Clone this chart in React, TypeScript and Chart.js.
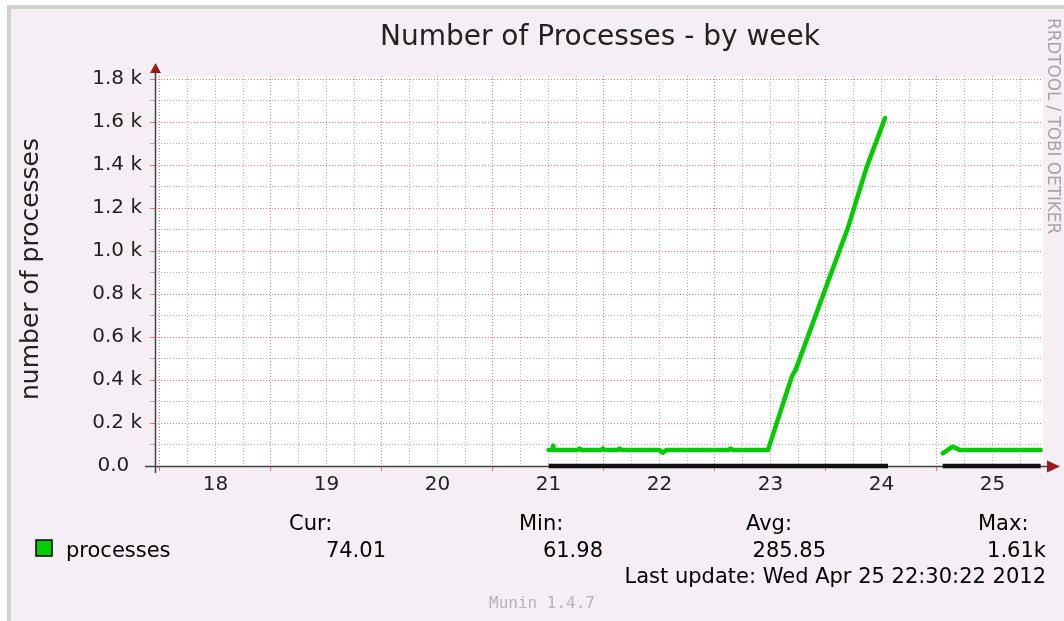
import React, { useEffect, useRef } from "react";
import { Chart, registerables } from "chart.js";

Chart.register(...registerables);

// ---------- data ----------
const TITLE = "Number of Processes - by week";
const Y_LABEL = "number of processes";
const SIDE_TEXT = "RRDTOOL / TOBI OETIKER";
const SERIES_NAME = "processes";
const LAST_UPDATE = "Last update: Wed Apr 25 22:30:22 2012";
const FOOTER = "Munin 1.4.7";

// days of month shown on the x axis (label centred at noon of each day)
const dayLabels = [18, 19, 20, 21, 22, 23, 24, 25];
const xMin = 17.955;
const xMax = 25.955;

// y ticks (every 100, labelled every 200)
const yTickValues = [0, 100, 200, 300, 400, 500, 600, 700, 800, 900, 1000, 1100, 1200, 1300, 1400, 1500, 1600, 1700, 1800];
const yMax = 1815;

// processes (time in fractional day-of-month, value in processes)
const processTimes = [
  21.501, 21.535, 21.543, 21.551, 21.76, 21.78, 21.8, 21.97, 21.99, 22.01,
  22.12, 22.14, 22.16, 22.5, 22.53, 22.56, 23.12, 23.14, 23.16, 23.477,
  23.691, 23.73, 24.045, 24.198, 24.367, 24.532, 24.8, 25.051, 25.141, 25.207, 25.934,
];
const processValues = [
  74, 74, 95, 74, 74, 81, 74, 74, 81, 74,
  74, 81, 74, 74, 62, 74, 74, 81, 74, 74,
  414, 452, 896, 1109, 1392, 1619, null, 59, 90, 74, 74,
];

// black baseline series (drawn at zero where data exists)
const baseTimes = [21.501, 24.559, 24.8, 25.051, 25.934];
const baseValues = [0, 0, null, 0, 0];

// legend
const legendHeaders = ["Cur:", "Min:", "Avg:", "Max:"];
const legendValues = ["74.01", "61.98", "285.85", "1.61k"];

// ---------- styling ----------
const FONT = "'DejaVu Sans', 'Liberation Sans', sans-serif";
const MONO = "'DejaVu Sans Mono', 'Liberation Mono', monospace";
const GREEN = "#00CC00";
const RED_GRID = "rgba(240, 90, 90, 0.85)";
const GRAY_GRID = "rgba(150, 150, 150, 0.75)";

const toPoints = (xs: number[], ys: (number | null)[]) =>
  xs.map((x, i) => ({ x, y: ys[i] }));

const muninPlugin = {
  id: "muninDecor",
  beforeDraw(chart: any) {
    const { ctx, width, height, chartArea: a } = chart;
    ctx.save();
    ctx.fillStyle = "#ffffff";
    ctx.fillRect(0, 0, width, height);
    ctx.fillStyle = "#CBD3CB";
    ctx.fillRect(7, 5, width, height);
    ctx.fillStyle = "#F5EEF5";
    ctx.fillRect(11, 9, width, height);
    ctx.fillStyle = "#ffffff";
    ctx.fillRect(a.left, a.top, a.right - a.left, a.bottom - a.top);
    ctx.restore();
  },
  beforeDatasetsDraw(chart: any) {
    const { ctx, chartArea: a } = chart;
    ctx.save();
    ctx.strokeStyle = "#444444";
    ctx.lineWidth = 1.5;
    ctx.beginPath();
    ctx.moveTo(a.left - 10, a.bottom + 0.5);
    ctx.lineTo(a.right + 5, a.bottom + 0.5);
    ctx.moveTo(a.left + 0.5, a.bottom + 7);
    ctx.lineTo(a.left + 0.5, a.top - 5);
    ctx.stroke();
    ctx.fillStyle = "#9C1A1A";
    ctx.beginPath();
    ctx.moveTo(a.left - 5, a.top - 3);
    ctx.lineTo(a.left + 6, a.top - 3);
    ctx.lineTo(a.left + 0.5, a.top - 13);
    ctx.closePath();
    ctx.fill();
    ctx.beginPath();
    ctx.moveTo(a.right + 4, a.bottom - 5.5);
    ctx.lineTo(a.right + 4, a.bottom + 6.5);
    ctx.lineTo(a.right + 17, a.bottom + 0.5);
    ctx.closePath();
    ctx.fill();
    ctx.restore();
  },
  afterDraw(chart: any) {
    const { ctx, chartArea: a } = chart;
    ctx.save();
    // title
    ctx.fillStyle = "#222222";
    ctx.font = `28px ${FONT}`;
    ctx.textAlign = "center";
    ctx.textBaseline = "alphabetic";
    ctx.fillText(TITLE, (a.left + a.right) / 2 + 1, 45);

    // y axis title
    ctx.save();
    ctx.translate(38, (a.top + a.bottom) / 2 - 2);
    ctx.rotate(-Math.PI / 2);
    ctx.font = `25px ${FONT}`;
    ctx.textAlign = "center";
    ctx.fillText(Y_LABEL, 0, 0);
    ctx.restore();

    // side credit
    ctx.save();
    ctx.translate(1048, 18);
    ctx.rotate(Math.PI / 2);
    ctx.font = `16.8px ${FONT}`;
    ctx.fillStyle = "#A4A4A4";
    ctx.textAlign = "left";
    ctx.fillText(SIDE_TEXT, 0, 0);
    ctx.restore();

    // legend
    ctx.font = `21px ${FONT}`;
    ctx.fillStyle = GREEN;
    ctx.fillRect(36, 540, 16, 16);
    ctx.strokeStyle = "#000000";
    ctx.lineWidth = 1.5;
    ctx.strokeRect(36, 540, 16, 16);
    ctx.fillStyle = "#000000";
    ctx.textAlign = "left";
    ctx.fillText(SERIES_NAME, 66, 557);
    const headerX = [289, 519, 746, 978];
    const valueX = [386, 603, 826, 1046];
    legendHeaders.forEach((h, i) => {
      ctx.textAlign = "left";
      ctx.fillText(h, headerX[i], 530);
      ctx.textAlign = "right";
      ctx.fillText(legendValues[i], valueX[i], 557);
    });
    ctx.textAlign = "right";
    ctx.fillText(LAST_UPDATE, 1046, 583);

    ctx.font = `16px ${MONO}`;
    ctx.fillStyle = "#B4B4B4";
    ctx.textAlign = "left";
    ctx.fillText(FOOTER, 489, 608);
    ctx.restore();
  },
};

export default function App() {
  const canvasRef = useRef<HTMLCanvasElement | null>(null);

  useEffect(() => {
    const canvas = canvasRef.current;
    if (!canvas) return;
    const isMajorX = (v: number) => Math.abs(v - Math.round(v)) < 1e-6;
    const chart = new Chart(canvas, {
      type: "line",
      data: {
        datasets: [
          {
            label: "base",
            data: toPoints(baseTimes, baseValues) as any,
            borderColor: "#111111",
            borderWidth: 4.5,
            pointRadius: 0,
            tension: 0,
            spanGaps: false,
            clip: false as any,
          },
          {
            label: SERIES_NAME,
            data: toPoints(processTimes, processValues) as any,
            borderColor: GREEN,
            borderWidth: 4.5,
            pointRadius: 0,
            tension: 0,
            spanGaps: false,
            borderJoinStyle: "round",
            borderCapStyle: "round",
            clip: false as any,
          },
        ],
      },
      options: {
        animation: false,
        responsive: false,
        maintainAspectRatio: false,
        devicePixelRatio: 1,
        layout: { padding: { left: 0, top: 76, right: 21, bottom: 0 } },
        plugins: {
          legend: { display: false },
          title: { display: false },
          tooltip: { enabled: false },
        },
        scales: {
          x: {
            type: "linear",
            min: xMin,
            max: xMax,
            afterBuildTicks: (scale: any) => {
              const ticks: { value: number }[] = [];
              dayLabels.forEach((d) => {
                [0, 0.25, 0.5, 0.75].forEach((f) => ticks.push({ value: d + f }));
              });
              scale.ticks = ticks;
            },
            afterFit: (scale: any) => {
              scale.height = 155;
            },
            border: { display: false, dash: [1, 2] },
            grid: {
              color: (c: any) =>
                c.tick && isMajorX(c.tick.value) ? RED_GRID : GRAY_GRID,
              tickColor: (c: any) =>
                c.tick && isMajorX(c.tick.value) ? RED_GRID : "rgba(0,0,0,0)",
              lineWidth: 1,
              tickLength: 5,
              tickBorderDash: [],
            },
            ticks: {
              autoSkip: false,
              maxRotation: 0,
              minRotation: 0,
              padding: 2,
              color: "#222222",
              font: { family: FONT, size: 20 },
              callback: (v: any) => {
                const n = Number(v);
                const frac = n - Math.floor(n);
                return Math.abs(frac - 0.5) < 1e-6 ? String(Math.floor(n)) : "";
              },
            },
          },
          y: {
            type: "linear",
            min: 0,
            max: yMax,
            afterBuildTicks: (scale: any) => {
              scale.ticks = yTickValues.map((v) => ({ value: v }));
            },
            afterFit: (scale: any) => {
              scale.width = 155;
            },
            border: { display: false, dash: [1, 2] },
            grid: {
              color: (c: any) =>
                c.tick && c.tick.value % 200 === 0 ? RED_GRID : GRAY_GRID,
              tickColor: (c: any) =>
                c.tick && c.tick.value % 200 === 0 ? RED_GRID : GRAY_GRID,
              lineWidth: 1,
              tickLength: 5,
              tickBorderDash: [],
            },
            ticks: {
              autoSkip: false,
              padding: 8,
              color: "#222222",
              font: { family: FONT, size: 20 },
              callback: (v: any) => {
                const n = Number(v);
                if (n % 200 !== 0) return "";
                if (n === 0) return "0.0  ";
                return (n / 1000).toFixed(1) + " k";
              },
            },
          },
        },
      },
      plugins: [muninPlugin as any],
    });
    return () => chart.destroy();
  }, []);

  return (
    <div style={{ position: "fixed", left: 0, top: 0, width: 1064, height: 621 }}>
      <canvas ref={canvasRef} width={1064} height={621} style={{ display: "block" }} />
    </div>
  );
}
